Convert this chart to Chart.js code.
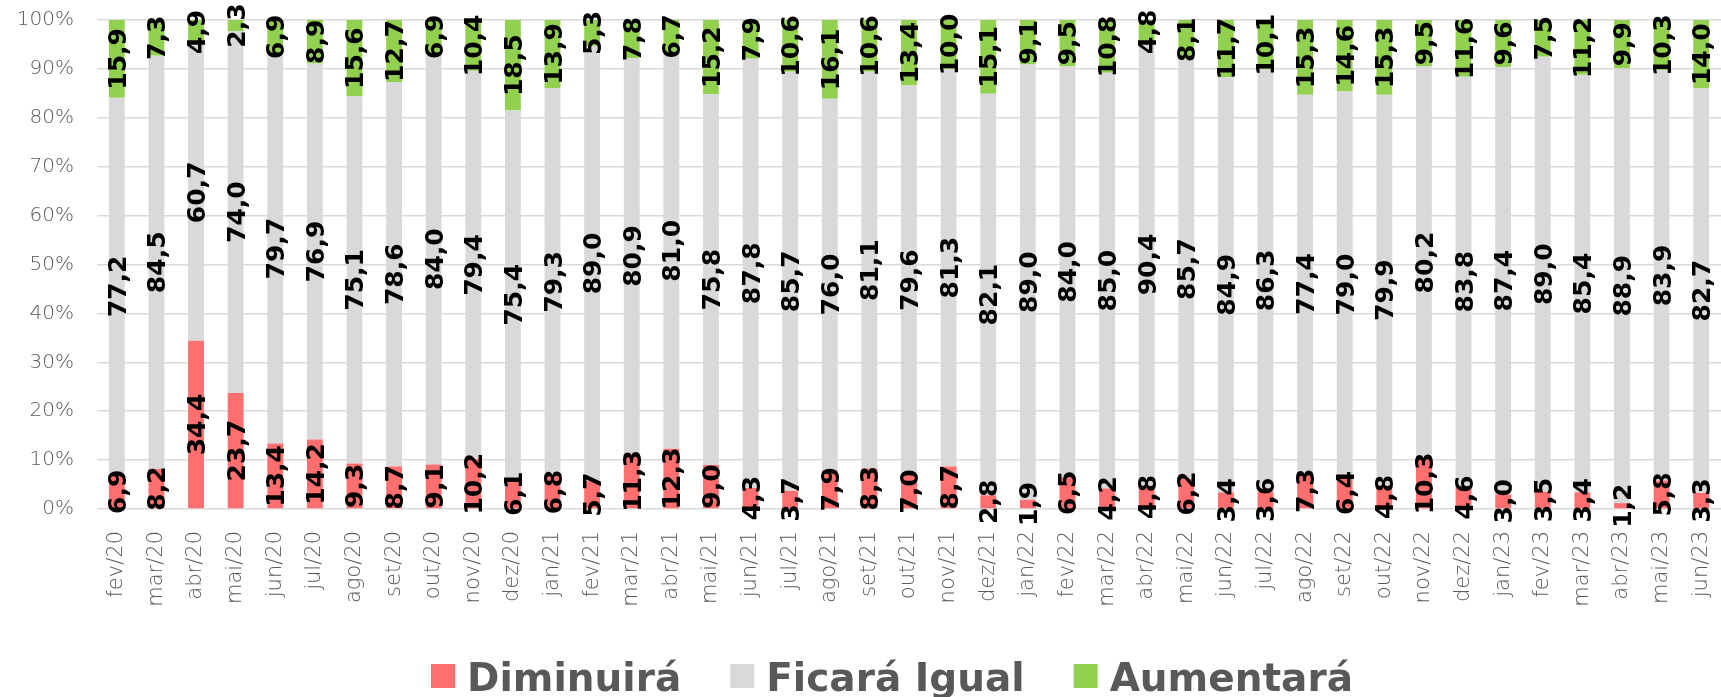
<!DOCTYPE html>
<html>
<head>
<meta charset="utf-8">
<script src="https://cdn.jsdelivr.net/npm/chart.js@4.4.0/dist/chart.umd.min.js"></script>
<style>
  body { margin: 0; background: #fff; }
  canvas { display: block; }
</style>
</head>
<body>
<canvas id="chart" width="1721" height="697"></canvas>
<script>
const months = [
  "fev/20", "mar/20", "abr/20", "mai/20", "jun/20", "jul/20", "ago/20", "set/20", "out/20", "nov/20", "dez/20",
  "jan/21", "fev/21", "mar/21", "abr/21", "mai/21", "jun/21", "jul/21", "ago/21", "set/21", "out/21", "nov/21", "dez/21",
  "jan/22", "fev/22", "mar/22", "abr/22", "mai/22", "jun/22", "jul/22", "ago/22", "set/22", "out/22", "nov/22", "dez/22",
  "jan/23", "fev/23", "mar/23", "abr/23", "mai/23", "jun/23"
];

const diminuira = [
  6.9, 8.2, 34.4, 23.7, 13.4, 14.2, 9.3, 8.7, 9.1, 10.2, 6.1,
  6.8, 5.7, 11.3, 12.3, 9.0, 4.3, 3.7, 7.9, 8.3, 7.0, 8.7, 2.8,
  1.9, 6.5, 4.2, 4.8, 6.2, 3.4, 3.6, 7.3, 6.4, 4.8, 10.3, 4.6,
  3.0, 3.5, 3.4, 1.2, 5.8, 3.3
];

const ficaraIgual = [
  77.2, 84.5, 60.7, 74.0, 79.7, 76.9, 75.1, 78.6, 84.0, 79.4, 75.4,
  79.3, 89.0, 80.9, 81.0, 75.8, 87.8, 85.7, 76.0, 81.1, 79.6, 81.3, 82.1,
  89.0, 84.0, 85.0, 90.4, 85.7, 84.9, 86.3, 77.4, 79.0, 79.9, 80.2, 83.8,
  87.4, 89.0, 85.4, 88.9, 83.9, 82.7
];

const aumentara = [
  15.9, 7.3, 4.9, 2.3, 6.9, 8.9, 15.6, 12.7, 6.9, 10.4, 18.5,
  13.9, 5.3, 7.8, 6.7, 15.2, 7.9, 10.6, 16.1, 10.6, 13.4, 10.0, 15.1,
  9.1, 9.5, 10.8, 4.8, 8.1, 11.7, 10.1, 15.3, 14.6, 15.3, 9.5, 11.6,
  9.6, 7.5, 11.2, 9.9, 10.3, 14.0
];

// 100% stacked: each column scaled to its own total
const totals = months.map((m, i) => diminuira[i] + ficaraIgual[i] + aumentara[i]);
const share = (arr) => arr.map((v, i) => v / totals[i] * 100);

const fmt = (v) => v.toFixed(1).replace(".", ",");

// labels in the middle of each segment, turned upright
const valueLabels = {
  id: "valueLabels",
  afterDatasetsDraw(chart) {
    const ctx = chart.ctx;
    ctx.save();
    ctx.font = "bold 25px 'DejaVu Sans'";
    ctx.fillStyle = "#000";
    ctx.textAlign = "center";
    ctx.textBaseline = "alphabetic";
    chart.data.datasets.forEach((ds, d) => {
      chart.getDatasetMeta(d).data.forEach((bar, i) => {
        ctx.save();
        ctx.translate(bar.x, (bar.y + bar.base) / 2);
        ctx.rotate(-Math.PI / 2);
        ctx.fillText(fmt(ds.values[i]), 0, 9);
        ctx.restore();
      });
    });
    ctx.restore();
  }
};

// legend under the axis labels
const bottomLegend = {
  id: "bottomLegend",
  afterDraw(chart) {
    const ctx = chart.ctx;
    ctx.save();
    ctx.font = "bold 39px 'DejaVu Sans'";
    ctx.textBaseline = "alphabetic";
    const items = chart.data.datasets.map((ds) => ({
      text: ds.label,
      color: ds.backgroundColor,
      w: ctx.measureText(ds.label).width
    }));
    const total = items.reduce((s, it) => s + 24 + 12 + it.w, 0) + 49 * (items.length - 1);
    let x = 892 - total / 2;
    items.forEach((it) => {
      ctx.fillStyle = it.color;
      ctx.fillRect(x, 664, 24, 24);
      ctx.fillStyle = "#595959";
      ctx.fillText(it.text, x + 36, 691);
      x += 36 + it.w + 49;
    });
    ctx.restore();
  }
};

new Chart(document.getElementById("chart"), {
  type: "bar",
  data: {
    labels: months,
    datasets: [
      { label: "Diminuirá", data: share(diminuira), values: diminuira, backgroundColor: "#FF6F6F" },
      { label: "Ficará Igual", data: share(ficaraIgual), values: ficaraIgual, backgroundColor: "#D9D9D9" },
      { label: "Aumentará", data: share(aumentara), values: aumentara, backgroundColor: "#92D050" }
    ]
  },
  options: {
    responsive: false,
    animation: false,
    layout: { padding: { top: 20, left: 17, right: 0, bottom: 0 } },
    datasets: { bar: { barPercentage: 0.4, categoryPercentage: 1.0 } },
    plugins: {
      legend: { display: false },
      tooltip: { enabled: false }
    },
    scales: {
      x: {
        stacked: true,
        grid: { display: false },
        border: { display: false },
        ticks: {
          autoSkip: false,
          minRotation: 90,
          maxRotation: 90,
          padding: 14,
          color: "#595959",
          font: { family: "'DejaVu Sans'", size: 21, weight: 200 }
        },
        afterFit: (scale) => {
          scale.height = 188;
          scale.paddingLeft = scale.paddingRight = scale.paddingTop = scale.paddingBottom = 0;
        }
      },
      y: {
        stacked: true,
        min: 0,
        max: 100,
        grid: { color: "#D9D9D9", lineWidth: 1.5, drawTicks: false },
        border: { display: false },
        ticks: {
          stepSize: 10,
          padding: 23,
          color: "#595959",
          font: { family: "'DejaVu Sans'", size: 20, weight: 200 },
          callback: (v) => v + "%"
        },
        afterFit: (scale) => {
          scale.width = 80;
          scale.paddingLeft = scale.paddingRight = scale.paddingTop = scale.paddingBottom = 0;
        }
      }
    }
  },
  plugins: [valueLabels, bottomLegend]
});
</script>
</body>
</html>
